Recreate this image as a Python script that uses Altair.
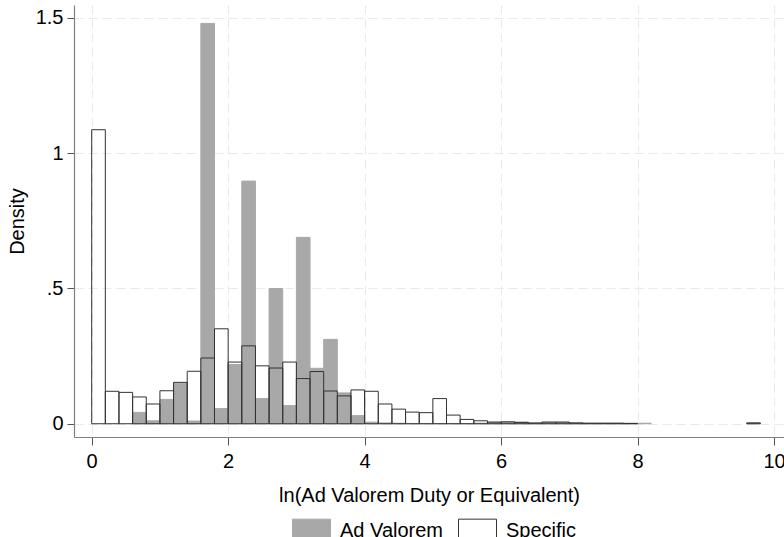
import altair as alt
import pandas as pd

# Histogram densities, bins of width 0.2 starting at 0
bin_width = 0.2
specific = [1.087, 0.120, 0.116, 0.099, 0.073, 0.122, 0.153, 0.194, 0.243, 0.351,
            0.228, 0.288, 0.214, 0.206, 0.228, 0.167, 0.193, 0.121, 0.103, 0.125,
            0.120, 0.073, 0.054, 0.043, 0.041, 0.093, 0.032, 0.016, 0.011, 0.006,
            0.007, 0.005, 0.003, 0.006, 0.006, 0.003, 0.002, 0.002, 0.002, 0.001,
            0.0, 0.0, 0.0, 0.0, 0.0, 0.0, 0.0, 0.0, 0.003]
ad_valorem = [0.0, 0.0, 0.0, 0.042, 0.011, 0.090, 0.150, 0.010, 1.480, 0.056,
              0.219, 0.897, 0.093, 0.500, 0.067, 0.689, 0.205, 0.312, 0.114, 0.030,
              0.006, 0.003, 0.002, 0.001, 0.001, 0.001, 0.001, 0.001, 0.002, 0.006,
              0.007, 0.006, 0.002, 0.006, 0.006, 0.003, 0.002, 0.002, 0.002, 0.002,
              0.002, 0.0, 0.0, 0.0, 0.0, 0.0, 0.0, 0.0, 0.003]
series_names = ["Ad Valorem", "Specific"]
x_ticks = [0, 2, 4, 6, 8, 10]
y_ticks = [0, 0.5, 1, 1.5]

rows = []
for name, vals in zip(series_names, [ad_valorem, specific]):
    for i, v in enumerate(vals):
        if v <= 0:
            continue
        lo = round(i * bin_width, 1)
        rows.append({"series": name, "order": series_names.index(name),
                     "lo": lo, "hi": round(lo + bin_width, 1), "density": v})
df = pd.DataFrame(rows)

FONT = "Liberation Sans"
grid_dash = [9, 5]

legend_opts = dict(title=None, orient="none", direction="horizontal",
                   legendX=218, legendY=506,
                   symbolType="M-1,-0.6L1,-0.6L1,0.6L-1,0.6Z",
                   symbolSize=1444, symbolStrokeWidth=1,
                   labelFontSize=20, labelFont=FONT, labelColor="black",
                   labelOffset=9, columnPadding=12)

bars = alt.Chart(df).mark_bar(strokeWidth=1).encode(
    x=alt.X("lo:Q",
            scale=alt.Scale(domain=[-0.259, 10.146], nice=False, zero=False),
            axis=alt.Axis(values=x_ticks, title="ln(Ad Valorem Duty or Equivalent)",
                          format="d", tickSize=8, labelPadding=6,
                          titleY=58, titleBaseline="middle")),
    x2="hi:Q",
    y=alt.Y("density:Q",
            scale=alt.Scale(domain=[-0.049, 1.548], nice=False, zero=False),
            axis=alt.Axis(values=y_ticks, title="Density", tickSize=7, labelPadding=4,
                          labelExpr="datum.value === 0 ? '0' : (datum.value < 1 ? substring(format(datum.value, '~g'), 1) : format(datum.value, '~g'))",
                          titleX=-57, titleY=216, titleBaseline="middle")),
    y2=alt.datum(0),
    fill=alt.Fill("series:N",
                  scale=alt.Scale(domain=series_names, range=["#a8a8a8", "rgba(255,255,255,0)"]),
                  legend=alt.Legend(**legend_opts)),
    stroke=alt.Stroke("series:N",
                      scale=alt.Scale(domain=series_names, range=["#a8a8a8", "#333333"]),
                      legend=alt.Legend(**legend_opts)),
    order=alt.Order("order:Q"),
)

chart = bars.properties(
    width=710, height=432,
    autosize=alt.AutoSizeParams(type="none"),
    padding={"left": 74, "top": 5, "right": 0, "bottom": 100},
    background="white",
).configure_view(stroke=None).configure_axis(
    labelFont=FONT, titleFont=FONT, labelFontSize=20, titleFontSize=20,
    labelColor="black", titleColor="black", titleFontWeight="normal",
    domainColor="#7f7f7f", tickColor="#555555", domainWidth=1.2,
    grid=True, gridColor="#e9e9e9", gridDash=grid_dash, gridWidth=1,
)

chart.save("out.html", embed_options={"renderer": "svg", "actions": False})
